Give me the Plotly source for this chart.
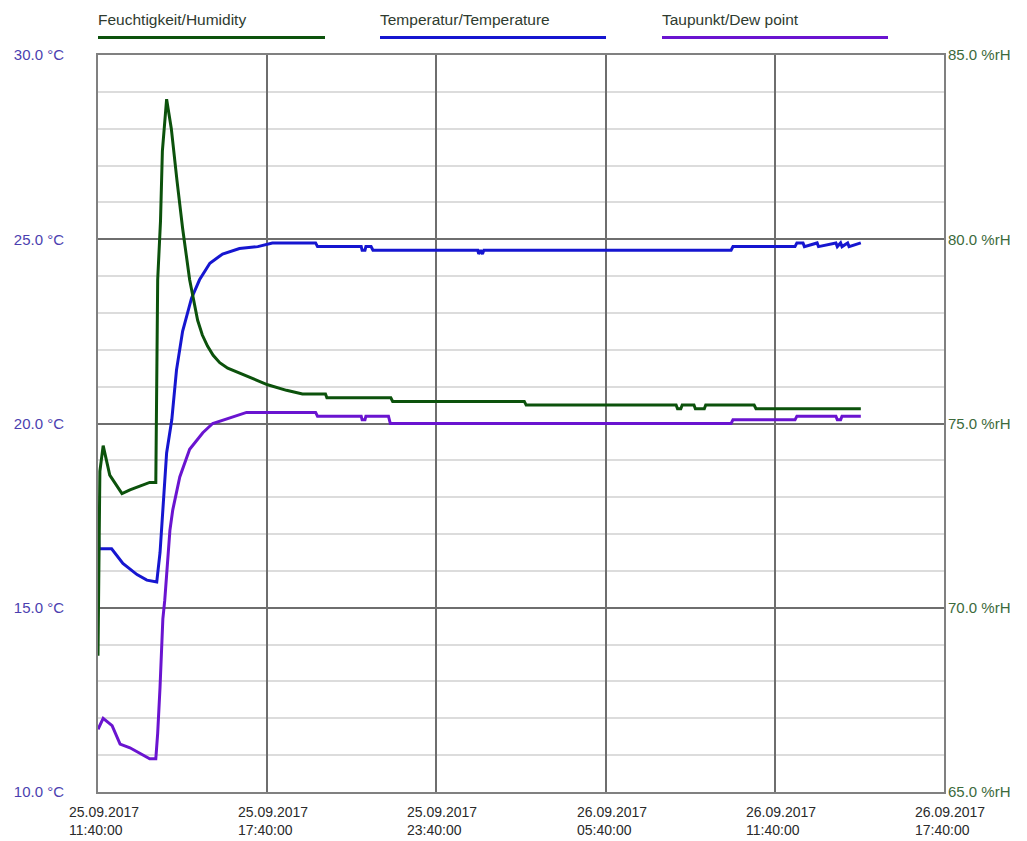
import pandas as pd
import plotly.graph_objects as go

START = "2017-09-25 11:40:00"

# Humidity (%rH): minutes after start, value
hum_min = [0, 2, 4, 11, 25, 51, 68, 89, 110, 123, 127, 133, 137, 146, 156, 168, 180, 195, 212, 222, 233,
           245, 259, 276, 295, 329, 361, 401, 435, 484, 487, 623, 627, 907, 911, 1230, 1233, 1240, 1243,
           1268, 1271, 1290, 1293, 1396, 1400, 1623]
hum_val = [68.7, 71.3, 73.7, 74.4, 73.6, 73.1, 73.2, 73.3, 73.4, 73.4, 78.9, 80.5, 82.4, 83.8, 83.0, 81.6,
           80.3, 78.9, 77.8, 77.4, 77.1, 76.85, 76.65, 76.5, 76.4, 76.2, 76.05, 75.9, 75.8, 75.8, 75.7,
           75.7, 75.6, 75.6, 75.5, 75.5, 75.4, 75.4, 75.5, 75.5, 75.4, 75.4, 75.5, 75.5, 75.4, 75.4]

# Temperature (°C)
temp_min = [0, 2, 8, 29, 53, 83, 104, 125, 132, 138, 146, 157, 167, 180, 199, 216, 238, 265, 301, 340,
            371, 463, 467, 560, 562, 568, 570, 581, 585, 808, 810, 814, 818, 821, 1347, 1351, 1483, 1487,
            1500, 1503, 1530, 1533, 1570, 1573, 1580, 1583, 1595, 1598, 1623]
temp_val = [17.4, 16.6, 16.6, 16.6, 16.2, 15.9, 15.75, 15.7, 16.5, 17.8, 19.2, 20.1, 21.45, 22.5, 23.4,
            23.9, 24.35, 24.6, 24.75, 24.8, 24.9, 24.9, 24.8, 24.8, 24.7, 24.7, 24.8, 24.8, 24.7, 24.7,
            24.6, 24.7, 24.6, 24.7, 24.7, 24.8, 24.8, 24.9, 24.9, 24.8, 24.9, 24.8, 24.9, 24.8, 24.9,
            24.8, 24.9, 24.8, 24.9]

# Dew point (°C)
dew_min = [0, 11, 30, 47, 68, 89, 110, 123, 127, 132, 138, 142, 146, 153, 159, 174, 195, 223, 244, 280,
           316, 463, 467, 560, 562, 568, 570, 618, 622, 1347, 1351, 1483, 1487, 1570, 1573, 1580, 1583, 1623]
dew_val = [11.7, 12.0, 11.8, 11.3, 11.2, 11.05, 10.9, 10.9, 11.6, 12.85, 14.7, 15.2, 16.0, 17.1, 17.65,
           18.55, 19.3, 19.75, 20.0, 20.15, 20.3, 20.3, 20.2, 20.2, 20.1, 20.1, 20.2, 20.2, 20.0, 20.0,
           20.1, 20.1, 20.2, 20.2, 20.1, 20.1, 20.2, 20.2]

x_ticks = ["2017-09-25 11:40:00", "2017-09-25 17:40:00", "2017-09-25 23:40:00",
           "2017-09-26 05:40:00", "2017-09-26 11:40:00", "2017-09-26 17:40:00"]
x_tick_dates = ["25.09.2017", "25.09.2017", "25.09.2017", "26.09.2017", "26.09.2017", "26.09.2017"]
x_tick_times = ["11:40:00", "17:40:00", "23:40:00", "05:40:00", "11:40:00", "17:40:00"]
t_ticks = [10, 15, 20, 25, 30]
t_ticktext = ["10.0 °C", "15.0 °C", "20.0 °C", "25.0 °C", "30.0 °C"]
h_ticks = [65, 70, 75, 80, 85]
h_ticktext = ["65.0 %rH", "70.0 %rH", "75.0 %rH", "80.0 %rH", "85.0 %rH"]

names = ["Feuchtigkeit/Humidity", "Temperatur/Temperature", "Taupunkt/Dew point"]
colors = ["#0c520c", "#1616d0", "#6a14d0"]

t0 = pd.Timestamp(START)
def tx(mins):
    return [t0 + pd.Timedelta(minutes=m) for m in mins]

FONT = "Liberation Sans, Arial, sans-serif"

fig = go.Figure()
fig.add_trace(go.Scatter(x=tx(temp_min), y=temp_val, mode="lines", name=names[1],
                         line=dict(color=colors[1], width=3), yaxis="y"))
fig.add_trace(go.Scatter(x=tx(dew_min), y=dew_val, mode="lines", name=names[2],
                         line=dict(color=colors[2], width=3), yaxis="y"))
fig.add_trace(go.Scatter(x=tx(hum_min), y=hum_val, mode="lines", name=names[0],
                         line=dict(color=colors[0], width=3), yaxis="y2"))

# page-pixel geometry (the page body adds an 8px offset)
OFF = 8
L, R, T, B = 98, 944, 55, 792
W, H = 1027 - OFF, 841 - OFF

def px2paper_x(px):
    return (px - L) / (R - L)

def px2paper_y(py):
    return (B - py) / (B - T)

legend_pos = [(98, 325), (380, 606), (662, 888)]
for (x0, x1), name, col in zip(legend_pos, names, colors):
    fig.add_annotation(x=px2paper_x(x0), y=px2paper_y(19), xref="paper", yref="paper",
                       text=name, showarrow=False, xanchor="left", yanchor="middle",
                       xshift=-2, font=dict(family=FONT, size=15.5, color="#2f3b2f"))
    fig.add_shape(type="line", xref="paper", yref="paper",
                  x0=px2paper_x(x0), x1=px2paper_x(x1), y0=px2paper_y(37.5), y1=px2paper_y(37.5),
                  line=dict(color=col, width=3))

for xv, d, tm in zip(x_ticks, x_tick_dates, x_tick_times):
    fig.add_annotation(x=xv, y=px2paper_y(803), xref="x", yref="paper", text=d + "<br>" + tm,
                       showarrow=False, xanchor="left", yanchor="top", align="left", xshift=-30,
                       borderpad=0, font=dict(family=FONT, size=14, color="#2a2a2a"))

fig.update_layout(
    width=W, height=H,
    margin=dict(l=L - OFF, r=W - (R - OFF), t=T - OFF, b=H - (B - OFF), autoexpand=False),
    paper_bgcolor="white", plot_bgcolor="white",
    showlegend=False,
    font=dict(family=FONT, size=15),
    xaxis=dict(range=[x_ticks[0], x_ticks[-1]], tickvals=x_ticks, showticklabels=False,
               showgrid=True, gridcolor="#6e6e6e", gridwidth=2,
               showline=True, linecolor="#808080", linewidth=2, mirror=True,
               ticks="", zeroline=False, automargin=False),
    yaxis=dict(range=[10, 30], tickvals=t_ticks, ticktext=t_ticktext,
               showgrid=True, gridcolor="#6e6e6e", gridwidth=2,
               minor=dict(dtick=1, showgrid=True, gridcolor="#dcdcdc", gridwidth=2, tick0=10),
               showline=True, linecolor="#808080", linewidth=2, mirror=True,
               ticks="", ticklabelstandoff=29, automargin=False,
               tickfont=dict(family=FONT, size=15, color="#4b3fb0"), zeroline=False),
    yaxis2=dict(range=[65, 85], tickvals=h_ticks, ticktext=h_ticktext, overlaying="y", side="right",
                showgrid=False, zeroline=False, showline=False, ticks="", ticklabelstandoff=3,
                automargin=False,
                tickfont=dict(family=FONT, size=15, color="#3c6a3c")),
)

fig.write_html("out.html")
